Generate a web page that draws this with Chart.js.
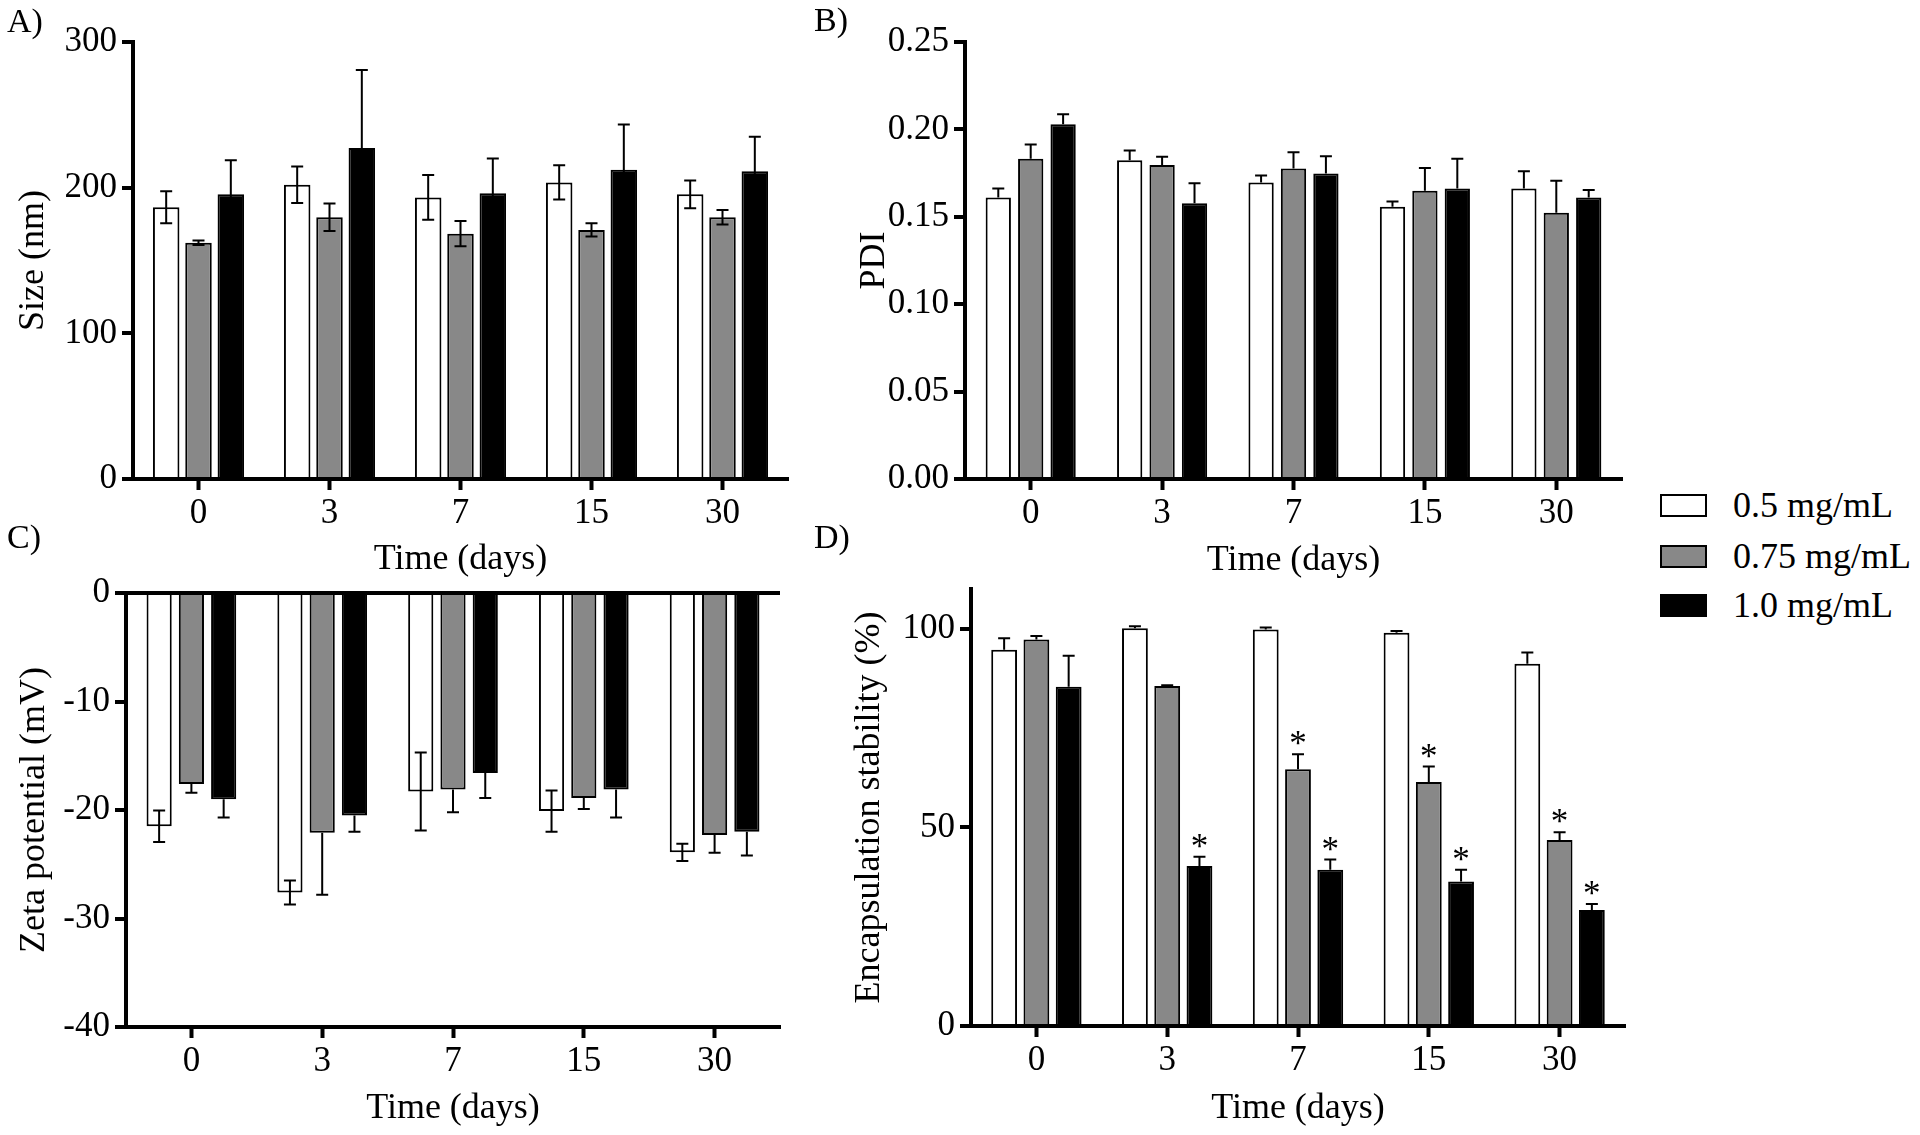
<!DOCTYPE html>
<html>
<head>
<meta charset="utf-8">
<script src="https://cdn.jsdelivr.net/npm/chart.js@4.4.1/dist/chart.umd.min.js"></script>
<style>
  body { margin: 0; background: #fff; width: 1920px; height: 1135px; position: relative; overflow: hidden; }
  canvas { position: absolute; }
  .lbl { position: absolute; font-family: 'Liberation Serif', serif; font-size: 34px; line-height: 34px; color: #000; white-space: nowrap; }
  .leg { font-size: 36px; line-height: 36px; }
  .box { position: absolute; width: 43px; height: 19px; border: 2px solid #000; }
</style>
</head>
<body>
<canvas id="cA" width="800" height="585" style="left:0px;top:0px"></canvas>
<canvas id="cB" width="800" height="585" style="left:840px;top:0px"></canvas>
<canvas id="cC" width="800" height="595" style="left:0px;top:540px"></canvas>
<canvas id="cD" width="800" height="595" style="left:840px;top:540px"></canvas>

<div class="lbl" style="left:7px;top:4px">A)</div>
<div class="lbl" style="left:814px;top:3px">B)</div>
<div class="lbl" style="left:7px;top:520px">C)</div>
<div class="lbl" style="left:814px;top:520px">D)</div>

<div class="box" style="left:1660px;top:494px;background:#fff"></div>
<div class="lbl leg" style="left:1733px;top:487px">0.5 mg/mL</div>
<div class="box" style="left:1660px;top:545px;background:#888"></div>
<div class="lbl leg" style="left:1733px;top:538px">0.75 mg/mL</div>
<div class="box" style="left:1660px;top:594px;background:#000"></div>
<div class="lbl leg" style="left:1733px;top:587px">1.0 mg/mL</div>

<script>
// time points
const days = ['0', '3', '7', '15', '30'];
const seriesNames = ['0.5 mg/mL', '0.75 mg/mL', '1.0 mg/mL'];

// A) size (nm)
const sizeLow = [186.6, 202.0, 193.3, 203.6, 195.4];
const sizeLowSd = [11.0, 12.5, 15.4, 11.8, 9.5];
const sizeMid = [162.2, 179.7, 168.4, 171.0, 179.7];
const sizeMidSd = [1.5, 9.5, 8.7, 4.6, 5.0];
const sizeHigh = [195.4, 227.2, 196.1, 212.3, 211.3];
const sizeHighSd = [23.4, 53.5, 24.0, 31.0, 23.7];

// B) PDI
const pdiLow = [0.161, 0.1824, 0.1696, 0.1557, 0.1662];
const pdiLowSd = [0.0052, 0.0055, 0.004, 0.003, 0.0098];
const pdiMid = [0.1832, 0.1796, 0.1777, 0.1649, 0.1523];
const pdiMidSd = [0.0081, 0.0047, 0.0092, 0.013, 0.0183];
const pdiHigh = [0.2029, 0.1578, 0.1747, 0.1662, 0.161];
const pdiHighSd = [0.0057, 0.0114, 0.010, 0.017, 0.0043];

// C) zeta potential (mV)
const zetaLow = [-21.5, -27.6, -18.3, -20.1, -23.9];
const zetaLowSd = [1.45, 1.1, 3.6, 1.9, 0.8];
const zetaMid = [-17.6, -22.1, -18.1, -18.9, -22.3];
const zetaMidSd = [0.8, 5.7, 2.1, 1.0, 1.65];
const zetaHigh = [-19.0, -20.5, -16.6, -18.1, -22.0];
const zetaHighSd = [1.7, 1.5, 2.3, 2.6, 2.2];

// D) encapsulation stability (%)
const encLow = [94.7, 100.1, 99.8, 99.0, 91.2];
const encLowSd = [2.9, 0.5, 0.5, 0.4, 2.8];
const encMid = [97.3, 85.6, 64.6, 61.4, 46.8];
const encMidSd = [0.9, 0.2, 3.8, 3.9, 2.0];
const encHigh = [85.4, 40.3, 39.3, 36.4, 29.2];
const encHighSd = [7.8, 2.3, 2.6, 2.9, 1.5];
const encMidStars = [false, false, true, true, true];
const encHighStars = [false, true, true, true, true];

Chart.defaults.font.family = "'Liberation Serif', 'Times New Roman', serif";
Chart.defaults.font.size = 35;
Chart.defaults.color = '#000';

const fills = ['#ffffff', '#888888', '#000000'];

// draws SD whiskers (and significance stars) on top of the bars
const errorBars = {
    id: 'errorBars',
    afterDatasetsDraw(chart) {
        const ctx = chart.ctx;
        const y = chart.scales.y;
        chart.data.datasets.forEach((ds, i) => {
            const meta = chart.getDatasetMeta(i);
            meta.data.forEach((bar, j) => {
                const v = ds.data[j];
                const e = ds.sd[j];
                const dir = v < 0 ? -1 : 1;
                const yOut = y.getPixelForValue(v + dir * e);
                const both = ds.errMode === 'both';
                const yIn = both ? y.getPixelForValue(v - dir * e) : bar.y;
                ctx.save();
                ctx.strokeStyle = '#000';
                ctx.lineWidth = 2;
                ctx.beginPath();
                ctx.moveTo(bar.x, yIn);
                ctx.lineTo(bar.x, yOut);
                ctx.moveTo(bar.x - 6, yOut);
                ctx.lineTo(bar.x + 6, yOut);
                if (both) {
                    ctx.moveTo(bar.x - 6, yIn);
                    ctx.lineTo(bar.x + 6, yIn);
                }
                ctx.stroke();
                if (ds.stars && ds.stars[j]) {
                    ctx.fillStyle = '#000';
                    ctx.font = "35px 'Liberation Serif'";
                    ctx.textAlign = 'center';
                    ctx.textBaseline = 'alphabetic';
                    ctx.fillText('*', bar.x, yOut + 1);
                }
                ctx.restore();
            });
        });
    }
};

function panel(id, o) {
    const datasets = o.data.map((d, i) => ({
        label: seriesNames[i],
        data: d,
        sd: o.sd[i],
        errMode: o.modes[i],
        stars: o.stars ? o.stars[i] : null,
        backgroundColor: fills[i],
        borderColor: '#000',
        borderWidth: 2,
        categoryPercentage: 0.74,
        barPercentage: o.barPct
    }));
    const titleFont = { size: 36 };
    return new Chart(document.getElementById(id), {
        type: 'bar',
        data: { labels: days, datasets: datasets },
        plugins: [errorBars],
        options: {
            responsive: false,
            animation: false,
            devicePixelRatio: 1,
            layout: { padding: { top: o.top, right: o.right, left: 0, bottom: 0 } },
            plugins: { legend: { display: false }, tooltip: { enabled: false } },
            scales: {
                x: {
                    grid: { offset: false, drawOnChartArea: false, tickLength: 11, tickWidth: 4, tickColor: '#000' },
                    border: { width: 4, color: '#000' },
                    ticks: { padding: 3, maxRotation: 0 },
                    title: { display: true, text: 'Time (days)', font: titleFont, padding: { top: 0, bottom: o.xTitlePad } },
                    afterFit: s => { s.height = o.xHeight; }
                },
                y: {
                    min: o.min,
                    max: o.max,
                    ticks: { stepSize: o.step, padding: 5, callback: o.fmt },
                    afterBuildTicks: s => { s.ticks = s.ticks.filter(t => o.keep(t.value)); },
                    grid: {
                        drawOnChartArea: !!o.zeroLine,
                        color: c => (c.tick && c.tick.value === 0) ? '#000' : 'rgba(0,0,0,0)',
                        lineWidth: 4,
                        tickLength: 11,
                        tickWidth: 4,
                        tickColor: '#000'
                    },
                    border: { width: 4, color: '#000' },
                    title: { display: true, text: o.yTitle, font: titleFont, padding: { top: o.yTitlePad, bottom: 0 } },
                    afterFit: s => { s.width = o.yWidth; }
                }
            }
        }
    });
}

panel('cA', {
    data: [sizeLow, sizeMid, sizeHigh],
    sd: [sizeLowSd, sizeMidSd, sizeHighSd],
    modes: ['both', 'both', 'both'],
    barPct: 0.82,
    min: 0, max: 300, step: 100,
    fmt: v => String(v),
    keep: v => v % 100 === 0,
    yTitle: 'Size (nm)',
    top: 42, right: 12, yWidth: 133, yTitlePad: 12.4, xHeight: 106, xTitlePad: 3.4
});

panel('cB', {
    data: [pdiLow, pdiMid, pdiHigh],
    sd: [pdiLowSd, pdiMidSd, pdiHighSd],
    modes: ['out', 'out', 'out'],
    barPct: 0.78,
    min: 0, max: 0.25, step: 0.05,
    fmt: v => v.toFixed(2),
    keep: v => true,
    yTitle: 'PDI',
    top: 42, right: 18, yWidth: 125, yTitlePad: 13.4, xHeight: 106, xTitlePad: 2.4
});

panel('cC', {
    data: [zetaLow, zetaMid, zetaHigh],
    sd: [zetaLowSd, zetaMidSd, zetaHighSd],
    modes: ['both', 'out', 'out'],
    barPct: 0.78,
    min: -40, max: 0, step: 10,
    fmt: v => String(v),
    keep: v => v % 10 === 0,
    zeroLine: true,
    yTitle: 'Zeta potential (mV)',
    top: 53, right: 20, yWidth: 126, yTitlePad: 13.4, xHeight: 108, xTitlePad: 4.4
});

panel('cD', {
    data: [encLow, encMid, encHigh],
    sd: [encLowSd, encMidSd, encHighSd],
    modes: ['out', 'out', 'out'],
    stars: [null, encMidStars, encHighStars],
    barPct: 0.8,
    min: 0, max: 110, step: 50,
    fmt: v => String(v),
    keep: v => v % 50 === 0,
    yTitle: 'Encapsulation stability (%)',
    top: 49, right: 15, yWidth: 131, yTitlePad: 8.4, xHeight: 109, xTitlePad: 4.4
});
</script>
</body>
</html>
